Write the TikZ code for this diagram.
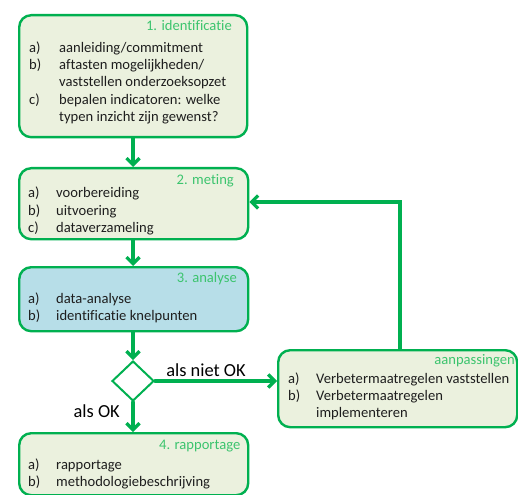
\documentclass[tikz,border=0pt]{standalone}
\usepackage{fontspec}
\setmainfont[Ligatures=CommonOff]{Carlito}
\usetikzlibrary{arrows.meta,shapes.geometric}
\definecolor{flowgreen}{RGB}{0,176,80}
\definecolor{titlegreen}{RGB}{60,196,110}
\definecolor{boxfill}{RGB}{235,241,222}
\definecolor{bluefill}{RGB}{183,222,232}
\definecolor{bodytext}{RGB}{30,30,30}
\tikzset{
  stagebox/.style={draw=flowgreen, line width=2.4pt, rounded corners=12pt, fill=boxfill,
    anchor=north west, inner sep=0pt},
  itm/.style={anchor=base west, inner sep=0pt, text=bodytext, font=\fontsize{14.6}{17}\selectfont},
  ttl/.style={anchor=base east, inner sep=0pt, text=titlegreen, font=\fontsize{14.6}{17}\selectfont},
  lbl/.style={inner sep=0pt, text=black, font=\fontsize{18.4}{22}\selectfont},
  flow/.style={draw=flowgreen, line width=3.2pt, line cap=round,
    -{Straight Barb[length=6.5pt,width=13pt,line width=3.2pt]}}
}
\begin{document}
\begin{tikzpicture}[x=1pt,y=-1pt]
\useasboundingbox (0,0) rectangle (518,494);

% stage boxes
\node[stagebox, minimum width=228pt, minimum height=122pt] (b1) at (18,14) {};
\node[stagebox, minimum width=229pt, minimum height=71pt] (b2) at (18,167) {};
\node[stagebox, fill=bluefill, minimum width=229pt, minimum height=64pt] (b3) at (18,266) {};
\node[stagebox, minimum width=229pt, minimum height=62pt] (b4) at (18,432) {};
\node[stagebox, minimum width=239pt, minimum height=77pt] (aan) at (277,349) {};

% decision
\node[diamond, draw=flowgreen, line width=2pt, fill=white, inner sep=0pt,
      minimum width=42pt, minimum height=40pt] (dia) at (133,381) {};

% 1. identificatie
\node[ttl] (t1) at (232,31) {1. identificatie};
\node[itm] (l1a) at (29,52.5) {a)};
\node[itm] (x1a) at (59,52.5) {aanleiding/commitment};
\node[itm] (l1b) at (29,70) {b)};
\node[itm] (x1b) at (59,70) {aftasten mogelijkheden/};
\node[itm] (x1b2) at (59,87) {vaststellen onderzoeksopzet};
\node[itm] (l1c) at (29,104.5) {c)};
\node[itm] (x1c) at (59,104.5) {bepalen indicatoren: welke};
\node[itm] (x1c2) at (59,121.5) {typen inzicht zijn gewenst?};

% 2. meting
\node[ttl] (t2) at (234,185) {2. meting};
\node[itm] (l2a) at (28,197.5) {a)};
\node[itm] (x2a) at (56,197.5) {voorbereiding};
\node[itm] (l2b) at (28,215) {b)};
\node[itm] (x2b) at (56,215) {uitvoering};
\node[itm] (l2c) at (28,232.5) {c)};
\node[itm] (x2c) at (56,232.5) {dataverzameling};

% 3. analyse
\node[ttl] (t3) at (237,282) {3. analyse};
\node[itm] (l3a) at (28,303) {a)};
\node[itm] (x3a) at (56,303) {data-analyse};
\node[itm] (l3b) at (28,320.5) {b)};
\node[itm] (x3b) at (56,320.5) {identificatie knelpunten};

% 4. rapportage
\node[ttl] (t4) at (240.5,449) {4. rapportage};
\node[itm] (l4a) at (28,469) {a)};
\node[itm] (x4a) at (56,469) {rapportage};
\node[itm] (l4b) at (28,486.5) {b)};
\node[itm] (x4b) at (56,486.5) {methodologiebeschrijving};

% aanpassingen
\node[ttl] (t5) at (515,364.5) {aanpassingen};
\node[itm] (l5a) at (288,383.5) {a)};
\node[itm] (x5a) at (316,383.5) {Verbetermaatregelen vaststellen};
\node[itm] (l5b) at (288,400.5) {b)};
\node[itm] (x5b) at (316,400.5) {Verbetermaatregelen};
\node[itm] (x5b2) at (316,417.5) {implementeren};

% connectors
\draw[flow] (b1.south -| dia) -- (b2.north -| dia);
\draw[flow] (b2.south -| dia) -- (b3.north -| dia);
\draw[flow] (b3.south -| dia) -- (dia.north);
\draw[flow] (dia.south) -- (b4.north -| dia);
\draw[flow] (dia.east) -- (dia.east -| aan.west);
\coordinate (fb) at (400,202);
\draw[flow] (fb |- aan.north) -- (fb) -- (fb -| b2.east);

% branch labels
\node[lbl, anchor=base] (niet) at (206,376) {als niet OK};
\node[lbl, anchor=base east] (ok) at (120,417) {als OK};
\end{tikzpicture}
\end{document}
